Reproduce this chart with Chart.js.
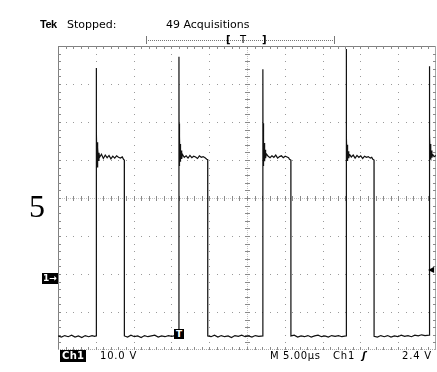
<!DOCTYPE html>
<html>
<head>
<meta charset="utf-8">
<script src="https://cdn.jsdelivr.net/npm/chart.js@4/dist/chart.umd.min.js"></script>
<style>
  html,body{margin:0;padding:0;background:#fff;}
  #wrap{position:relative;width:437px;height:372px;overflow:hidden;font-family:'DejaVu Sans',sans-serif;color:#000;}
  #c{position:absolute;left:0;top:0;}
  .t{position:absolute;white-space:nowrap;font-size:11px;line-height:13px;}
  .b{position:absolute;white-space:nowrap;font-size:10px;line-height:12px;letter-spacing:0.8px;}
  .inv{background:#000;color:#fff;font-weight:bold;}
</style>
</head>
<body>
<div id="wrap">
  <canvas id="c" width="437" height="372"></canvas>

  <div class="t" style="left:40px;top:18px;font-family:'Liberation Sans',sans-serif;font-weight:bold;letter-spacing:-0.5px;">Tek</div>
  <div class="t" style="left:67px;top:18px;">Stopped:</div>
  <div class="t" style="left:166px;top:18px;">49 Acquisitions</div>

  <div id="ruler" style="position:absolute;left:146px;top:40px;width:189px;height:0;border-top:1px dotted #777;"></div>
  <div style="position:absolute;left:146px;top:36px;width:1px;height:8px;background:#777;"></div>
  <div style="position:absolute;left:334px;top:36px;width:1px;height:8px;background:#777;"></div>
  <div class="t" style="left:226px;top:33px;font-size:10px;font-weight:bold;">[</div>
  <div class="t" style="left:240px;top:33px;font-size:10px;">T</div>
  <div class="t" style="left:262px;top:33px;font-size:10px;font-weight:bold;">]</div>

  <div style="position:absolute;left:29px;top:188px;font-family:'Liberation Serif',serif;font-size:32px;line-height:36px;">5</div>

  <div class="b inv" style="left:60px;top:350px;padding:0 2px;letter-spacing:0.3px;">Ch1</div>
  <div class="b" style="left:100px;top:350px;">10.0 V</div>
  <div class="b" style="left:270px;top:350px;letter-spacing:0.6px;">M 5.00µs</div>
  <div class="b" style="left:333px;top:350px;">Ch1</div>
  <div class="b" style="left:362px;top:350px;font-weight:bold;font-style:italic;">ʃ</div>
  <div class="b" style="left:402px;top:350px;">2.4 V</div>

  <div id="gnd" class="b inv" style="left:42px;top:0;width:16px;height:11px;font-size:9px;line-height:11px;letter-spacing:0;text-align:center;">1→</div>
  <div id="trg" class="b" style="left:428px;top:0;font-size:8px;line-height:8px;letter-spacing:0;">◀</div>
  <div id="tmark" class="b inv" style="top:329px;width:10px;height:10px;font-size:9px;line-height:10px;letter-spacing:0;text-align:center;">T</div>
</div>
<script>
// ---- data (time in µs from left edge of screen, Ch1 in volts) ----
const lowA_T   = [0.00,0.45,0.90,1.35,1.80,2.25,2.70,3.15,3.60,4.05,4.50,4.85,5.03];
const lowA_V   = [-15.0,-15.3,-14.9,-15.2,-14.8,-15.3,-15.0,-15.4,-14.9,-15.2,-14.9,-15.1,-15.0];
const pulse1_T = [5.03,5.05,5.07,5.10,5.13,5.16,5.20,5.24,5.29,5.35,5.42,5.50,5.75,6.00,6.25,6.50,6.75,7.00,7.25,7.50,7.75,8.00,8.25,8.50,8.68,8.77];
const pulse1_V = [55.5,26.8,41.2,28.0,38.5,29.5,36.0,30.5,34.5,31.2,33.2,32.0,32.8,31.7,32.6,31.9,32.5,31.6,32.3,31.8,32.4,32.0,31.8,32.1,31.4,31.3];
const lowB_T   = [8.78,9.20,9.65,10.10,10.55,11.00,11.45,11.90,12.35,12.80,13.25,13.70,14.15,14.60,15.05,15.50,16.00];
const lowB_V   = [-15.0,-15.3,-14.8,-15.2,-15.0,-15.4,-14.9,-15.2,-15.0,-14.8,-15.3,-15.0,-15.2,-14.9,-15.1,-14.9,-15.0];
const pulse2_T = [16.00,16.02,16.04,16.07,16.10,16.14,16.18,16.23,16.29,16.36,16.45,16.70,16.95,17.20,17.45,17.70,17.95,18.20,18.45,18.70,18.95,19.20,19.45,19.68,19.80];
const pulse2_V = [58.5,29.9,40.9,30.8,37.5,31.0,35.5,31.5,33.8,31.6,32.8,32.0,32.4,31.8,32.5,31.9,32.3,32.1,31.7,32.4,32.0,32.2,31.9,31.5,31.4];
const lowC_T   = [19.81,20.25,20.70,21.15,21.60,22.05,22.50,22.95,23.40,23.85,24.30,24.75,25.20,25.65,26.10,26.55,27.10];
const lowC_V   = [-15.0,-15.2,-14.8,-15.3,-14.9,-15.2,-15.0,-15.4,-14.9,-15.1,-14.8,-15.2,-15.0,-15.3,-14.9,-15.1,-15.0];
const pulse3_T = [27.10,27.12,27.14,27.17,27.20,27.24,27.28,27.33,27.39,27.46,27.55,27.80,28.05,28.30,28.55,28.80,29.05,29.30,29.55,29.80,30.05,30.30,30.50,30.62,30.80];
const pulse3_V = [55.2,29.9,41.0,30.5,38.0,31.5,35.8,31.0,34.0,31.8,32.9,32.3,31.9,32.4,32.0,32.6,31.8,32.2,32.4,31.9,32.3,32.1,31.9,31.5,31.3];
const lowD_T   = [30.81,31.25,31.70,32.15,32.60,33.05,33.50,33.95,34.40,34.85,35.30,35.75,36.20,36.65,37.10,37.55,38.10];
const lowD_V   = [-15.0,-14.8,-15.3,-15.0,-15.2,-14.9,-15.3,-15.0,-14.8,-15.2,-15.0,-15.3,-14.9,-15.1,-14.9,-15.2,-15.0];
const pulse4_T = [38.10,38.12,38.14,38.17,38.20,38.24,38.28,38.33,38.39,38.46,38.55,38.80,39.05,39.30,39.55,39.80,40.05,40.30,40.55,40.80,41.05,41.30,41.50,41.65,41.80];
const pulse4_V = [60.5,29.9,39.7,30.6,37.2,31.2,35.3,31.4,33.6,31.8,32.8,32.1,32.6,31.8,32.5,32.0,32.4,31.7,32.3,32.0,32.2,31.8,32.0,31.5,31.3];
const lowE_T   = [41.81,42.25,42.70,43.15,43.60,44.05,44.50,44.95,45.40,45.85,46.30,46.75,47.20,47.65,48.10,48.55,49.10];
const lowE_V   = [-15.1,-15.3,-14.9,-15.2,-14.9,-15.3,-15.0,-15.2,-14.8,-15.1,-14.9,-15.2,-14.8,-15.0,-14.7,-14.9,-14.8];
const pulse5_T = [49.10,49.12,49.14,49.17,49.20,49.24,49.28,49.33,49.39,49.46,49.55,49.75,50.00];
const pulse5_V = [56.0,31.2,41.3,31.0,38.0,31.8,35.5,31.6,33.8,31.9,32.8,32.2,32.5];

// scope settings
const voltsPerDiv = 10;      // Ch1 10.0 V
const usPerDiv = 5;          // M 5.00 µs
const groundDiv = -2.13;     // ground marker position in divisions from centre
const triggerLevel = 2.4;    // V
const triggerTime = 16.0;    // µs from left edge

const segsT = [lowA_T,pulse1_T,lowB_T,pulse2_T,lowC_T,pulse3_T,lowD_T,pulse4_T,lowE_T,pulse5_T];
const segsV = [lowA_V,pulse1_V,lowB_V,pulse2_V,lowC_V,pulse3_V,lowD_V,pulse4_V,lowE_V,pulse5_V];
const trace = [];
segsT.forEach((ts,s)=>ts.forEach((t,i)=>trace.push({x:t,y:segsV[s][i]})));

const graticule = {
  id:'graticule',
  beforeDatasetsDraw(chart){
    const ctx = chart.ctx, xs = chart.scales.xDiv, ys = chart.scales.yDiv;
    const L = Math.round(xs.getPixelForValue(0)), R = Math.round(xs.getPixelForValue(10));
    const T = Math.round(ys.getPixelForValue(4)), B = Math.round(ys.getPixelForValue(-4));
    ctx.save();
    ctx.fillStyle = '#9a9a9a';
    for(let i=1;i<10;i++){
      if(i===5) continue;
      const x = Math.round(xs.getPixelForValue(i));
      for(let k=1;k<40;k++){ const y = Math.round(ys.getPixelForValue(-4+k*0.2)); ctx.fillRect(x,y,1,1); }
    }
    for(let j=1;j<8;j++){
      if(j===4) continue;
      const y = Math.round(ys.getPixelForValue(-4+j));
      for(let k=1;k<50;k++){ const x = Math.round(xs.getPixelForValue(k*0.2)); ctx.fillRect(x,y,1,1); }
    }
    // centre cross with ticks
    const cx = Math.round(xs.getPixelForValue(5)), cy = Math.round(ys.getPixelForValue(0));
    ctx.fillStyle = '#c4c4c4';
    for(let y=T;y<B;y+=2) ctx.fillRect(cx,y,1,1);
    for(let x=L;x<R;x+=2) ctx.fillRect(x,cy,1,1);
    ctx.fillStyle = '#8a8a8a';
    for(let k=1;k<40;k++){ const y = Math.round(ys.getPixelForValue(-4+k*0.2)); ctx.fillRect(cx-2,y,5,1); }
    for(let k=1;k<50;k++){ const x = Math.round(xs.getPixelForValue(k*0.2)); ctx.fillRect(x,cy-2,1,5); }
    // border + inward ticks
    ctx.fillStyle = '#808080';
    ctx.fillRect(L,T,R-L,1); ctx.fillRect(L,T,1,B-T);
    ctx.fillStyle = '#a8a8a8';
    ctx.fillRect(R-1,T,1,B-T);
    for(let x=L;x<R;x+=2) ctx.fillRect(x,B-1,1,1);
    ctx.fillStyle = '#8a8a8a';
    for(let k=1;k<50;k++){ const x = Math.round(xs.getPixelForValue(k*0.2)); ctx.fillRect(x,T,1,3); ctx.fillRect(x,B-3,1,3); }
    for(let k=1;k<40;k++){ const y = Math.round(ys.getPixelForValue(-4+k*0.2)); ctx.fillRect(L,y,3,1); ctx.fillRect(R-3,y,3,1); }
    ctx.restore();
  }
};

const chart = new Chart(document.getElementById('c'), {
  type:'line',
  data:{datasets:[{data:trace,borderColor:'#111',borderWidth:1.2,pointRadius:0,tension:0,fill:false}]},
  options:{
    responsive:false, animation:false, parsing:true,
    layout:{padding:{left:58,top:46,right:1,bottom:22}},
    plugins:{legend:{display:false},tooltip:{enabled:false}},
    scales:{
      x:{type:'linear',min:0,max:10*usPerDiv,display:false},
      y:{type:'linear',min:(-4-groundDiv)*voltsPerDiv,max:(4-groundDiv)*voltsPerDiv,display:false},
      xDiv:{type:'linear',axis:'x',min:0,max:10,display:false},
      yDiv:{type:'linear',axis:'y',min:-4,max:4,display:false}
    }
  },
  plugins:[graticule]
});

const gy = chart.scales.y.getPixelForValue(0);
document.getElementById('gnd').style.top = (gy-5.5)+'px';
const ty = chart.scales.y.getPixelForValue(triggerLevel);
document.getElementById('trg').style.top = (ty-4)+'px';
const tx = chart.scales.x.getPixelForValue(triggerTime);
document.getElementById('tmark').style.left = (tx-5)+'px';
</script>
</body>
</html>
